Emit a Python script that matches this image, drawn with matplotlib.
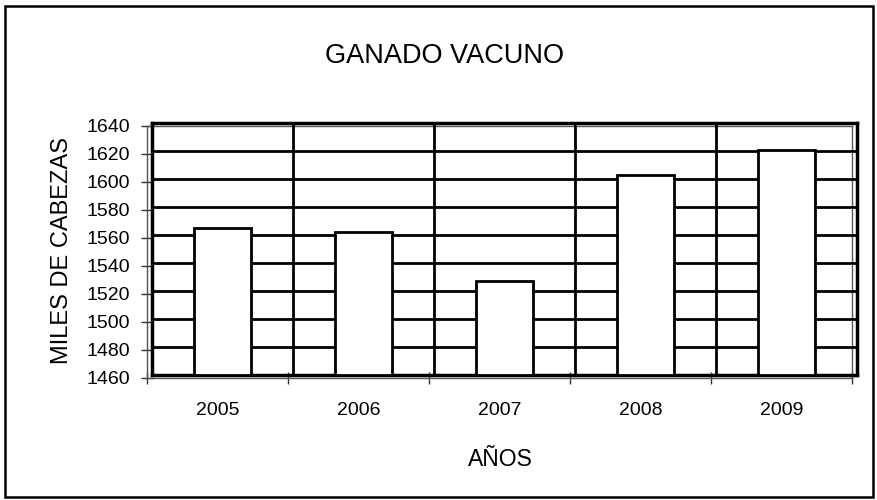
import matplotlib
matplotlib.use('Agg')
import matplotlib.pyplot as plt
from matplotlib.patches import Rectangle

plt.rcParams['font.family'] = ['Liberation Sans', 'DejaVu Sans']

years = ['2005', '2006', '2007', '2008', '2009']
cattle = [1565, 1562, 1527, 1603, 1621]
y_ticks = list(range(1460, 1641, 20))

W, H = 878, 500
fig = plt.figure(figsize=(W / 100, H / 100), dpi=100)

# main axes: ticks and labels (front plane)
ax = fig.add_axes([147 / W, 1 - 378 / H, 705 / W, 252 / H])
# back wall: shifted a few pixels up/right like the Excel 3D look
wall = fig.add_axes([152 / W, 1 - 375 / H, 705 / W, 252 / H])

x = list(range(len(years)))
for a in (ax, wall):
    a.set_xlim(-0.5, len(years) - 0.5)
    a.set_ylim(y_ticks[0], y_ticks[-1])

wall.patch.set_alpha(0)
for s in wall.spines.values():
    s.set_linewidth(2.5)
    s.set_color('black')
wall.set_xticks([i + 0.5 for i in x[:-1]])
wall.set_yticks(y_ticks)
wall.grid(True, color='black', linewidth=2)
wall.tick_params(length=0, labelleft=False, labelbottom=False)
wall.set_axisbelow(True)
wall.bar(x, [v - y_ticks[0] for v in cattle], bottom=y_ticks[0], width=0.4,
         color='white', edgecolor='black', linewidth=2, zorder=3)

for s in ax.spines.values():
    s.set_linewidth(1)
    s.set_color('#555555')
ax.set_yticks(y_ticks)
ax.set_xticks([i - 0.5 for i in x] + [len(years) - 0.5])
ax.set_xticklabels([])
ax.set_xticks(x, minor=True)
ax.set_xticklabels(years, minor=True)
ax.tick_params(axis='both', which='major', direction='inout', length=8, width=1,
               color='#333333', labelsize=14)
ax.tick_params(axis='y', pad=8)
ax.tick_params(axis='x', which='minor', length=0, pad=17, labelsize=14)

fig.text(445 / W, 1 - 63 / H, 'GANADO VACUNO', fontsize=19.5, ha='center', va='baseline')
fig.text(62 / W, 1 - 251 / H, 'MILES DE CABEZAS', fontsize=17, rotation=90,
         ha='center', va='center')
fig.text(500 / W, 1 - 466 / H, 'AÑOS', fontsize=16.5, ha='center', va='baseline')

fig.add_artist(Rectangle((5 / W, 1 - 497 / H), 868 / W, 491 / H, transform=fig.transFigure,
                         fill=False, edgecolor='black', linewidth=1.8))

fig.savefig('out.png', dpi=100)
